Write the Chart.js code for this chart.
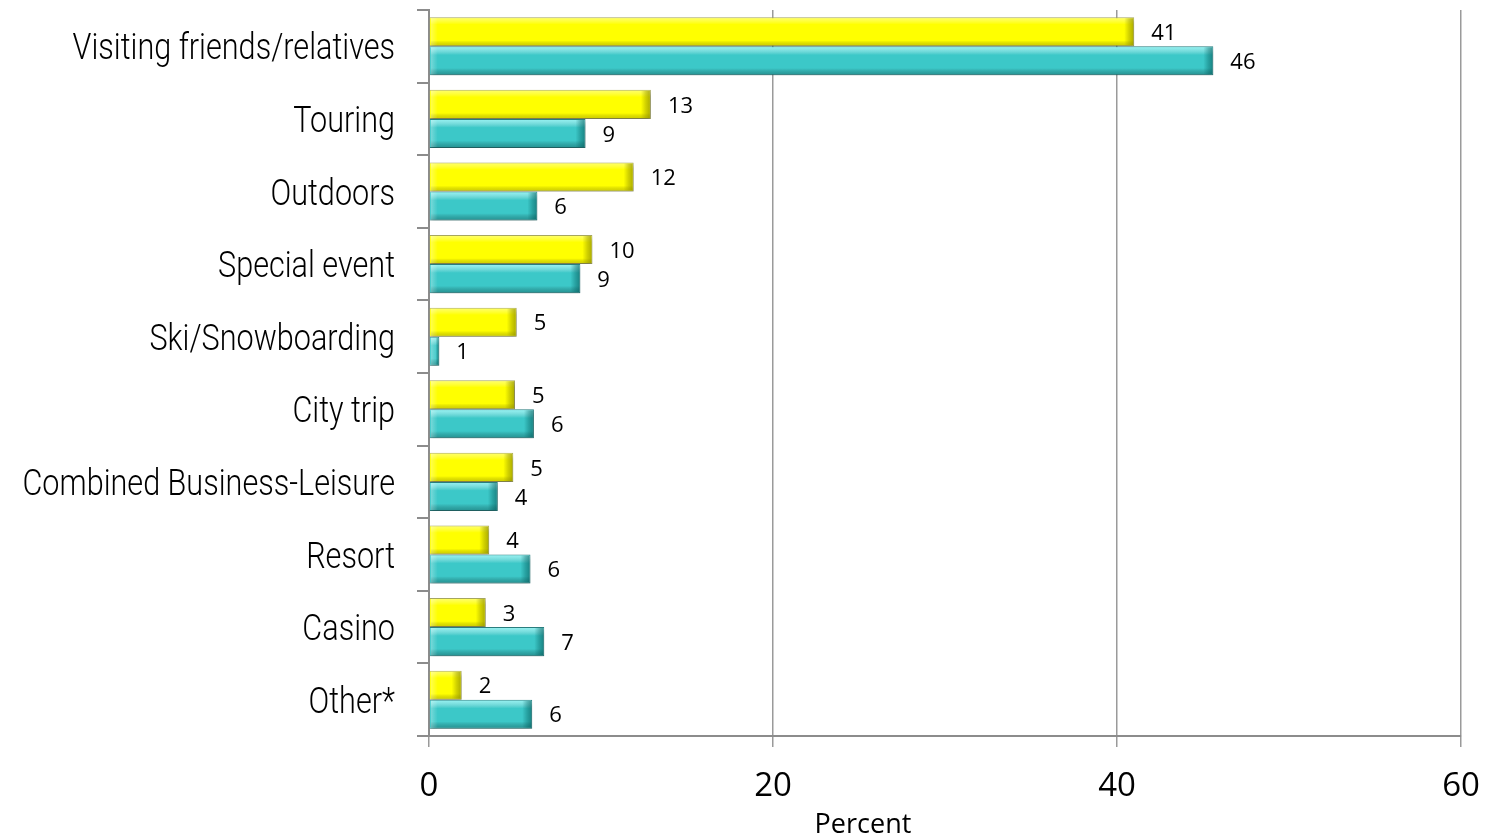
<!DOCTYPE html>
<html>
<head>
<meta charset="utf-8">
<script src="https://cdn.jsdelivr.net/npm/chart.js@4/dist/chart.umd.min.js"></script>
<style>
  html, body { margin: 0; padding: 0; background: #ffffff; }
  #wrap { width: 1487px; height: 838px; position: relative; }
</style>
</head>
<body>
<div id="wrap"><canvas id="c" width="1487" height="838"></canvas></div>
<script>
const categories = ["Visiting friends/relatives", "Touring", "Outdoors", "Special event", "Ski/Snowboarding", "City trip", "Combined Business-Leisure", "Resort", "Casino", "Other*"];
const seriesYellow = [41.0, 12.9, 11.9, 9.5, 5.1, 5.0, 4.9, 3.5, 3.3, 1.9];
const seriesTeal = [45.6, 9.1, 6.3, 8.8, 0.6, 6.1, 4.0, 5.9, 6.7, 6.0];
const xTicks = [0, 20, 40, 60];
const xTitle = "Percent";

const bevelPlugin = {
  id: 'bevel',
  beforeDatasetDraw(chart) {
    const ctx = chart.ctx;
    ctx.shadowColor = 'rgba(0,0,0,0.28)';
    ctx.shadowBlur = 4;
    ctx.shadowOffsetX = 1;
    ctx.shadowOffsetY = 3;
  },
  afterDatasetDraw(chart, args) {
    const ctx = chart.ctx;
    ctx.shadowColor = 'rgba(0,0,0,0)';
    ctx.shadowBlur = 0;
    ctx.shadowOffsetX = 0;
    ctx.shadowOffsetY = 0;
    const meta = args.meta;
    const isYellow = meta.index === 0;
    meta.data.forEach(el => {
      const p = el.getProps(['x', 'y', 'base', 'height'], true);
      const left = Math.min(p.base, p.x), right = Math.max(p.base, p.x);
      const top = p.y - p.height / 2, bottom = p.y + p.height / 2;
      const w = right - left, h = bottom - top;
      if (w <= 0) return;
      ctx.save();
      ctx.beginPath();
      ctx.rect(left + 1, top + 1, w - 2, h - 2);
      ctx.clip();
      const g = ctx.createLinearGradient(0, top, 0, bottom);
      if (isYellow) {
        g.addColorStop(0, 'rgba(255,255,200,0.55)');
        g.addColorStop(0.25, 'rgba(255,255,255,0.0)');
        g.addColorStop(0.8, 'rgba(0,0,0,0.0)');
        g.addColorStop(1, 'rgba(120,120,0,0.35)');
      } else {
        g.addColorStop(0, 'rgba(170,255,255,0.8)');
        g.addColorStop(0.3, 'rgba(255,255,255,0.0)');
        g.addColorStop(0.75, 'rgba(0,0,0,0.0)');
        g.addColorStop(1, 'rgba(0,70,70,0.40)');
      }
      ctx.fillStyle = g;
      ctx.fillRect(left, top, w, h);
      const capW = Math.min(10, w * 0.4);
      const g2 = ctx.createLinearGradient(right - capW, 0, right, 0);
      if (isYellow) {
        g2.addColorStop(0, 'rgba(150,150,0,0.0)');
        g2.addColorStop(0.5, 'rgba(150,150,0,0.45)');
        g2.addColorStop(1, 'rgba(130,130,0,0.7)');
      } else {
        g2.addColorStop(0, 'rgba(0,90,90,0.0)');
        g2.addColorStop(0.5, 'rgba(0,90,90,0.35)');
        g2.addColorStop(1, 'rgba(0,80,80,0.6)');
      }
      ctx.fillStyle = g2;
      ctx.fillRect(right - capW, top, capW, h);
      const g3 = ctx.createLinearGradient(left, 0, left + 8, 0);
      g3.addColorStop(0, 'rgba(255,255,255,0.35)');
      g3.addColorStop(1, 'rgba(255,255,255,0)');
      ctx.fillStyle = g3;
      ctx.fillRect(left, top, 8, h);
      ctx.restore();
    });
  }
};

const labelPlugin = {
  id: 'valueLabels',
  afterDatasetsDraw(chart) {
    const ctx = chart.ctx;
    ctx.save();
    ctx.font = '22px "Open Sans"';
    ctx.fillStyle = '#000000';
    ctx.textAlign = 'left';
    ctx.textBaseline = 'middle';
    chart.data.datasets.forEach((ds, di) => {
      const meta = chart.getDatasetMeta(di);
      meta.data.forEach((el, i) => {
        const p = el.getProps(['x', 'y'], true);
        ctx.fillText(String(Math.round(ds.data[i])), p.x + 17, p.y + 2);
      });
    });
    ctx.restore();
  }
};

// condensed light category labels and the axis title
const textPlugin = {
  id: 'axisText',
  afterDraw(chart) {
    const ctx = chart.ctx;
    const yScale = chart.scales.y;
    const xScale = chart.scales.x;
    ctx.save();
    ctx.fillStyle = '#000000';
    ctx.font = '300 36px Roboto';
    ctx.textAlign = 'right';
    ctx.textBaseline = 'alphabetic';
    const sx = 0.85;
    categories.forEach((lab, i) => {
      const y = yScale.getPixelForValue(i);
      ctx.save();
      ctx.translate(chart.chartArea.left - 34, y + 13);
      ctx.scale(sx, 1);
      ctx.fillText(lab, 0, 0);
      ctx.restore();
    });
    ctx.fillStyle = '#000000';
    ctx.font = '27px "Open Sans"';
    ctx.textAlign = 'center';
    ctx.textBaseline = 'middle';
    const tx = xScale.left + (xScale.right - xScale.left) * 0.4205;
    ctx.fillText(xTitle, tx, 825);
    ctx.restore();
  }
};

new Chart(document.getElementById('c'), {
  type: 'bar',
  data: {
    labels: categories,
    datasets: [
      {
        label: 'Series 1',
        data: seriesYellow,
        backgroundColor: '#FFFF00',
        borderColor: '#A8A860',
        borderWidth: 1,
        categoryPercentage: 0.8,
        barPercentage: 1.0
      },
      {
        label: 'Series 2',
        data: seriesTeal,
        backgroundColor: '#3CC8C8',
        borderColor: '#2A7F80',
        borderWidth: 1,
        categoryPercentage: 0.8,
        barPercentage: 1.0
      }
    ]
  },
  options: {
    indexAxis: 'y',
    responsive: false,
    animation: false,
    devicePixelRatio: 1,
    layout: { padding: { top: 10, right: 26, bottom: 0, left: 0 } },
    plugins: {
      legend: { display: false },
      tooltip: { enabled: false },
      title: { display: false }
    },
    scales: {
      x: {
        type: 'linear',
        min: 0,
        max: 60,
        afterBuildTicks(scale) { scale.ticks = xTicks.map(v => ({ value: v })); },
        afterFit(scale) { scale.height = 102; scale.paddingLeft = 0; scale.paddingRight = 0; },
        ticks: {
          font: { family: '"Open Sans"', size: 33 },
          color: '#000000',
          padding: 20
        },
        grid: {
          color: '#9a9a9a',
          lineWidth: 1.5,
          tickLength: 11,
          drawOnChartArea: true
        },
        border: { display: true, color: '#8c8c8c', width: 2 },
        title: { display: false, text: xTitle }
      },
      y: {
        type: 'category',
        afterFit(scale) { scale.width = 429; scale.paddingTop = 0; scale.paddingBottom = 0; },
        ticks: { display: false, autoSkip: false },
        grid: {
          offset: true,
          drawOnChartArea: false,
          color: '#8c8c8c',
          lineWidth: 2,
          tickLength: 12
        },
        border: { display: true, color: '#8c8c8c', width: 2 }
      }
    }
  },
  plugins: [bevelPlugin, labelPlugin, textPlugin]
});
</script>
</body>
</html>
